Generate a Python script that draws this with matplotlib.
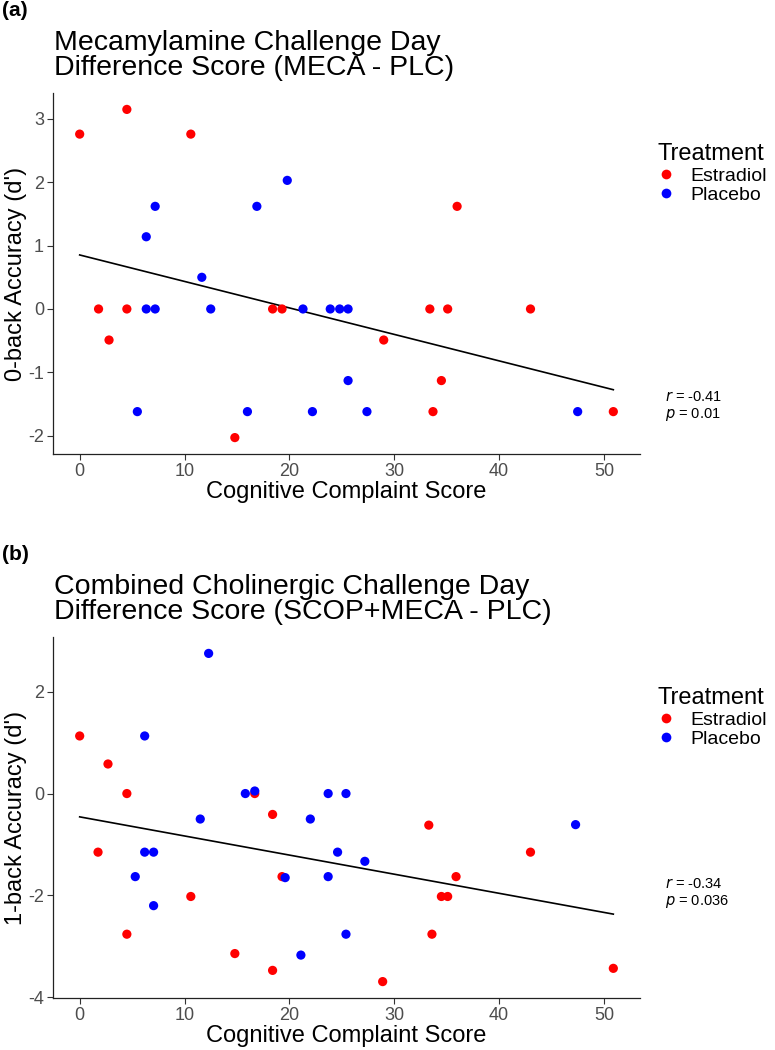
import numpy as np
import matplotlib
matplotlib.use("Agg")
import matplotlib.pyplot as plt
from matplotlib.lines import Line2D

plt.rcParams['font.family'] = ['Liberation Sans', 'DejaVu Sans']
plt.rcParams['axes.unicode_minus'] = False

# ---------------- data ----------------
# Panel (a): 0-back accuracy, MECA - PLC
a_est_x = [0, 4.5, 10.6, 1.8, 4.5, 2.8, 18.4, 19.3, 14.8, 36.0, 33.4, 35.1, 43.0, 29.0, 34.5, 33.7, 50.9]
a_est_y = [2.76, 3.15, 2.76, 0, 0, -0.49, 0, 0, -2.03, 1.62, 0, 0, 0, -0.49, -1.13, -1.62, -1.62]
a_plc_x = [19.8, 7.2, 16.9, 6.35, 11.65, 6.35, 7.2, 12.5, 21.3, 23.9, 24.8, 25.6, 25.6, 5.5, 16.0, 22.2, 27.4, 47.5]
a_plc_y = [2.03, 1.62, 1.62, 1.14, 0.5, 0, 0, 0, 0, 0, 0, 0, -1.13, -1.62, -1.62, -1.62, -1.62, -1.62]

# Panel (b): 1-back accuracy, SCOP+MECA - PLC
b_est_x = [0, 2.7, 4.5, 1.75, 4.5, 10.6, 14.8, 16.7, 18.4, 19.3, 18.4, 33.3, 43.0, 35.9, 34.5, 35.1, 33.6, 28.9, 50.9]
b_est_y = [1.13, 0.58, 0, -1.15, -2.76, -2.02, -3.14, 0, -0.41, -1.63, -3.47, -0.62, -1.15, -1.63, -2.02, -2.02, -2.76, -3.69, -3.43]
b_plc_x = [12.3, 6.2, 15.8, 16.7, 11.5, 6.2, 7.05, 5.3, 7.05, 19.6, 22.0, 23.7, 25.4, 24.6, 23.7, 25.4, 21.1, 27.2, 47.3]
b_plc_y = [2.75, 1.13, 0, 0.05, -0.5, -1.15, -1.15, -1.63, -2.2, -1.65, -0.5, 0, 0, -1.15, -1.63, -2.76, -3.17, -1.33, -0.61]

groups = ["Estradiol", "Placebo"]
group_colors = ["#FF0000", "#0000FF"]
x_ticks = [0, 10, 20, 30, 40, 50]
a_yticks = [-2, -1, 0, 1, 2, 3]
b_yticks = [-4, -2, 0, 2]
a_stats = ("-0.41", "0.01")
b_stats = ("-0.34", "0.036")

W, H = 775, 1050
fig = plt.figure(figsize=(W / 100, H / 100), dpi=100)


def fx(px):
    return px / W


def fy(py):
    return 1 - py / H


AX_L, AX_R, AX_H = 53, 640, 361


def panel(top, ex, ey, px_, py_, yticks, letter, title, ylabel, stats, r_y):
    ax = fig.add_axes([fx(AX_L), fy(top + AX_H), fx(AX_R) - fx(AX_L), AX_H / H])
    allx = np.array(ex + px_)
    ally = np.array(ey + py_)
    for xs, ys, c in [(ex, ey, group_colors[0]), (px_, py_, group_colors[1])]:
        ax.scatter(xs, ys, s=44, color=c, edgecolors='none', zorder=3)
    k, b = np.polyfit(allx, ally, 1)
    xl = np.array([allx.min(), allx.max()])
    ax.plot(xl, k * xl + b, color='black', lw=1.2, zorder=2)
    dx = (allx.max() - allx.min()) * 0.05
    dy = (ally.max() - ally.min()) * 0.05
    ax.set_xlim(allx.min() - dx, allx.max() + dx)
    ax.set_ylim(ally.min() - dy, ally.max() + dy)
    ax.set_xticks(x_ticks)
    ax.set_yticks(yticks)
    ax.tick_params(labelsize=13, labelcolor='#4D4D4D', length=4, width=0.8,
                   color='#333333', pad=2.5)
    for s in ['top', 'right']:
        ax.spines[s].set_visible(False)
    for s in ['left', 'bottom']:
        ax.spines[s].set_linewidth(0.9)
        ax.spines[s].set_color('#222222')
    ax.set_xlabel("Cognitive Complaint Score", fontsize=17)
    ax.xaxis.set_label_coords(0.5, -38 / AX_H)
    ax.set_ylabel(ylabel, fontsize=17)
    ax.yaxis.set_label_coords(-(AX_L - 16) / (AX_R - AX_L), 0.5)
    ax.xaxis.label.set_va('center')
    ax.yaxis.label.set_va('center')
    # panel letter and title
    fig.text(fx(2), fy(top - 93 + 1), letter, fontsize=15, fontweight='bold', va='top', ha='left')
    fig.text(fx(54), fy(top - 93 + 30), title, fontsize=20.5, va='top', ha='left', linespacing=0.95)
    # legend
    handles = [Line2D([], [], marker='o', linestyle='none', markersize=7,
                      markerfacecolor=c, markeredgecolor='none') for c in group_colors]
    fig.legend(handles, groups, title="Treatment", loc='upper left',
               bbox_to_anchor=(fx(657), fy(top - 93 + 143)), frameon=False,
               fontsize=14, title_fontsize=17, alignment='left', borderpad=0,
               borderaxespad=0, handlelength=0.9, handletextpad=0.8, labelspacing=0.1)
    fig.text(fx(665), fy(r_y), "$\\it{r}$ = " + stats[0], fontsize=10.5, va='center', ha='left')
    fig.text(fx(665), fy(r_y + 17), "$\\it{p}$ = " + stats[1], fontsize=10.5, va='center', ha='left')
    return ax


panel(93, a_est_x, a_est_y, a_plc_x, a_plc_y, a_yticks, "(a)",
      "Mecamylamine Challenge Day\nDifference Score (MECA - PLC)",
      "0-back Accuracy (d')", a_stats, 397)
panel(637, b_est_x, b_est_y, b_plc_x, b_plc_y, b_yticks, "(b)",
      "Combined Cholinergic Challenge Day\nDifference Score (SCOP+MECA - PLC)",
      "1-back Accuracy (d')", b_stats, 884)

fig.savefig("out.png", dpi=100)
